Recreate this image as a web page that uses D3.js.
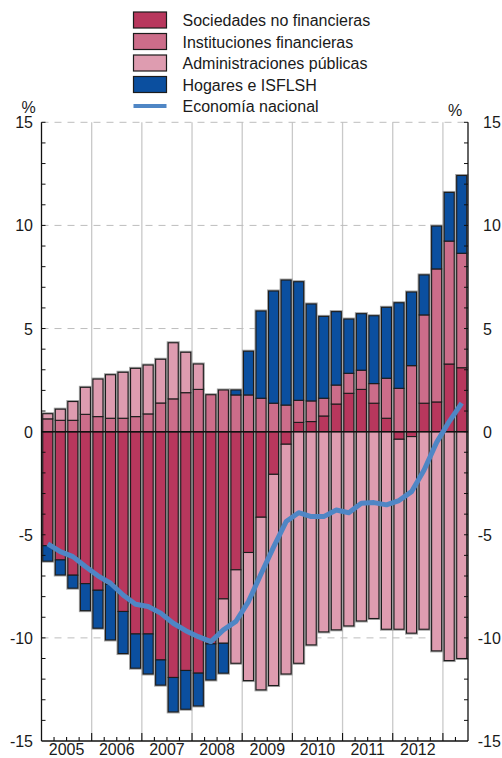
<!DOCTYPE html>
<html>
<head>
<meta charset="utf-8">
<script src="https://cdn.jsdelivr.net/npm/d3@7"></script>
<style>
  body { margin: 0; background: #fff; }
  text { font-family: "Liberation Sans", Arial, Helvetica, sans-serif; fill: #1a1a1a; }
</style>
</head>
<body>
<div id="chart"></div>
<script>
// quarterly data, 2005 T1 .. 2013 T2
const quarters = [
  "2005T1","2005T2","2005T3","2005T4","2006T1","2006T2","2006T3","2006T4",
  "2007T1","2007T2","2007T3","2007T4","2008T1","2008T2","2008T3","2008T4",
  "2009T1","2009T2","2009T3","2009T4","2010T1","2010T2","2010T3","2010T4",
  "2011T1","2011T2","2011T3","2011T4","2012T1","2012T2","2012T3","2012T4",
  "2013T1","2013T2"
];
const years = ["2005","2006","2007","2008","2009","2010","2011","2012"];

const sociedades = [-5.53,-6.22,-6.96,-7.37,-7.69,-7.40,-8.72,-9.81,-9.81,-11.07,-11.92,-11.58,-11.71,-10.29,-8.11,-6.70,
  -5.86,-4.15,-2.07,-0.61,0.45,0.49,0.76,1.34,1.86,2.05,1.38,0.65,-0.37,-0.24,1.38,1.44,3.28,3.10];
const instituciones = [0.62,0.55,0.55,0.84,0.73,0.65,0.65,0.73,0.86,1.39,1.59,1.89,2.05,1.79,2.02,1.78,
  1.78,1.62,1.38,1.29,1.07,1.00,0.86,0.92,0.97,0.93,0.95,1.94,2.10,3.20,4.28,6.45,5.96,5.55];
const administraciones = [0.25,0.54,0.91,1.31,1.82,2.11,2.23,2.34,2.37,2.12,2.72,1.96,1.23,0.00,-2.15,-4.53,
  -6.21,-8.37,-10.24,-11.14,-11.23,-10.34,-9.71,-9.61,-9.42,-9.18,-9.06,-9.58,-9.21,-9.53,-9.58,-10.63,-11.10,-11.00];
const hogares = [-0.75,-0.73,-0.63,-1.31,-1.84,-2.70,-2.04,-1.66,-1.94,-1.22,-1.67,-1.88,-1.59,-1.75,-1.45,0.24,
  2.12,4.23,5.44,6.06,5.75,4.70,3.97,3.56,2.63,2.74,3.29,3.44,4.15,3.57,1.94,2.08,2.36,3.77];
const economia = [-5.44,-5.82,-6.06,-6.54,-6.99,-7.35,-7.92,-8.37,-8.48,-8.80,-9.29,-9.65,-9.94,-10.18,-9.61,-9.20,
  -8.24,-6.90,-5.60,-4.36,-3.93,-4.12,-4.12,-3.80,-3.93,-3.47,-3.44,-3.55,-3.34,-2.91,-1.86,-0.52,0.49,1.38];

const seriesNames = ["Sociedades no financieras","Instituciones financieras","Administraciones públicas","Hogares e ISFLSH"];
const seriesColors = ["#b8375d","#cc6d8a","#de9cb0","#0b4f9f"];
const lineName = "Economía nacional";
const lineColor = "#4f86c5";

const table = quarters.map((q, i) => ({
  q: q,
  [seriesNames[0]]: sociedades[i],
  [seriesNames[1]]: instituciones[i],
  [seriesNames[2]]: administraciones[i],
  [seriesNames[3]]: hogares[i]
}));

const W = 502, H = 758;
const x0 = 41.5, x1 = 468, yTop = 122.3, yBot = 741;

const svg = d3.select("#chart").append("svg")
  .attr("width", W).attr("height", H);

const x = d3.scaleBand().domain(quarters).range([x0, x1])
  .paddingInner(0.2).paddingOuter(0.1);
const y = d3.scaleLinear().domain([-15, 15]).range([yBot, yTop]);
const edge = k => x0 + k * x.step();

// vertical year separators
svg.append("g").selectAll("line")
  .data(d3.range(1, quarters.length / 4 + 1).filter(k => edge(k * 4) < x1))
  .join("line")
    .attr("x1", k => edge(k * 4)).attr("x2", k => edge(k * 4))
    .attr("y1", yTop).attr("y2", yBot)
    .attr("stroke", "#c9c9c9").attr("stroke-width", 1.3);

// dashed horizontal grid
svg.append("g").selectAll("line")
  .data([15, 10, 5, -5, -10])
  .join("line")
    .attr("x1", x0).attr("x2", x1)
    .attr("y1", d => y(d)).attr("y2", d => y(d))
    .attr("stroke", "#bdbdbd").attr("stroke-width", 1)
    .attr("stroke-dasharray", "7,6");

// stacked bars
const stack = d3.stack().keys(seriesNames).offset(d3.stackOffsetDiverging);
const stacked = stack(table);

const segs = [];
stacked.forEach((s, si) => s.forEach(d => {
  if (Math.abs(d[1] - d[0]) > 0.001) segs.push({ si: si, q: d.data.q, lo: Math.min(d[0], d[1]), hi: Math.max(d[0], d[1]) });
}));

svg.append("g").selectAll("rect")
  .data(segs)
  .join("rect")
    .attr("x", d => x(d.q)).attr("width", x.bandwidth())
    .attr("y", d => y(d.hi)).attr("height", d => y(d.lo) - y(d.hi))
    .attr("fill", "none").attr("stroke", "#a0a0a0").attr("stroke-width", 3);

svg.append("g").selectAll("rect")
  .data(segs)
  .join("rect")
    .attr("x", d => x(d.q)).attr("width", x.bandwidth())
    .attr("y", d => y(d.hi)).attr("height", d => y(d.lo) - y(d.hi))
    .attr("fill", d => seriesColors[d.si])
    .attr("stroke", "#1c1c1c").attr("stroke-width", 1.1);

// zero line
svg.append("line")
  .attr("x1", x0).attr("x2", x1).attr("y1", y(0)).attr("y2", y(0))
  .attr("stroke", "#111").attr("stroke-width", 1.5);

// axes frame
svg.append("line").attr("x1", x0).attr("x2", x0).attr("y1", yTop).attr("y2", yBot)
  .attr("stroke", "#111").attr("stroke-width", 1.3);
svg.append("line").attr("x1", x1).attr("x2", x1).attr("y1", yTop).attr("y2", yBot)
  .attr("stroke", "#111").attr("stroke-width", 1.3);
svg.append("line").attr("x1", x0).attr("x2", x1).attr("y1", yBot).attr("y2", yBot)
  .attr("stroke", "#111").attr("stroke-width", 1.3);

// minor y ticks (inward)
const yt = d3.range(-14, 16);
svg.append("g").selectAll("line").data(yt).join("line")
  .attr("x1", x0).attr("x2", x0 + 4).attr("y1", d => y(d)).attr("y2", d => y(d))
  .attr("stroke", "#111");
svg.append("g").selectAll("line").data(yt).join("line")
  .attr("x1", x1 - 4).attr("x2", x1).attr("y1", d => y(d)).attr("y2", d => y(d))
  .attr("stroke", "#111");

// x ticks: quarters short, years long
svg.append("g").selectAll("line").data(d3.range(1, quarters.length)).join("line")
  .attr("x1", k => edge(k)).attr("x2", k => edge(k))
  .attr("y1", yBot).attr("y2", k => yBot - (k % 4 === 0 ? 8 : 4))
  .attr("stroke", "#111").attr("stroke-width", 1.1);

// y labels
const yLabels = [15, 10, 5, 0, -5, -10, -15];
svg.append("g").selectAll("text").data(yLabels).join("text")
  .attr("x", 33).attr("y", d => y(d) + 6)
  .attr("text-anchor", "end").style("font-size", "16px")
  .text(d => d);
svg.append("g").selectAll("text").data(yLabels).join("text")
  .attr("x", d => d < 0 ? 477.7 : 483).attr("y", d => y(d) + 6)
  .attr("text-anchor", "start").style("font-size", "16px")
  .text(d => d);

svg.append("text").attr("x", 28.5).attr("y", 113).attr("text-anchor", "middle")
  .style("font-size", "16px").text("%");
svg.append("text").attr("x", 455).attr("y", 116).attr("text-anchor", "middle")
  .style("font-size", "16px").text("%");

// year labels
svg.append("g").selectAll("text").data(years).join("text")
  .attr("x", (d, i) => (edge(i * 4) + edge(i * 4 + 4)) / 2)
  .attr("y", 755)
  .attr("text-anchor", "middle").style("font-size", "16px")
  .text(d => d);

// national economy line
const line = d3.line()
  .x((d, i) => x(quarters[i]) + x.bandwidth() / 2)
  .y(d => y(d));
svg.append("path").datum(economia)
  .attr("d", line)
  .attr("fill", "none").attr("stroke", lineColor)
  .attr("stroke-width", 5).attr("stroke-linejoin", "round");

// legend
const lg = svg.append("g");
const rowY = i => 20 + i * 21.5;
seriesNames.forEach((n, i) => {
  lg.append("rect").attr("x", 133.5).attr("y", rowY(i) - 8).attr("width", 33).attr("height", 16)
    .attr("fill", seriesColors[i]).attr("stroke", "#1c1c1c").attr("stroke-width", 1.2);
  lg.append("text").attr("x", 182.5).attr("y", rowY(i) + 6).style("font-size", "16px").text(n);
});
lg.append("line").attr("x1", 133.5).attr("x2", 166.5).attr("y1", rowY(4)).attr("y2", rowY(4))
  .attr("stroke", lineColor).attr("stroke-width", 4);
lg.append("text").attr("x", 182.5).attr("y", rowY(4) + 6).style("font-size", "16px").text(lineName);
</script>
</body>
</html>
